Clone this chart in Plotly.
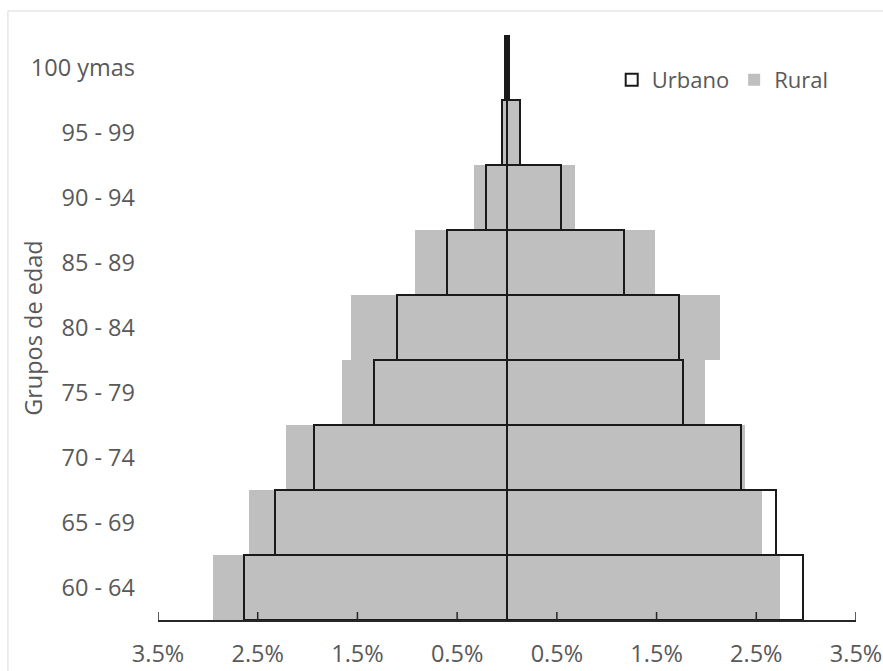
import plotly.graph_objects as go

# Grupos de edad (de abajo hacia arriba)
categorias = ["60 - 64", "65 - 69", "70 - 74", "75 - 79", "80 - 84",
              "85 - 89", "90 - 94", "95 - 99", "100 ymas"]

# Porcentaje de población por lado de la pirámide
urbano_izq = [2.64, 2.33, 1.94, 1.33, 1.10, 0.60, 0.21, 0.05, 0.02]
urbano_der = [2.97, 2.70, 2.35, 1.77, 1.72, 1.17, 0.54, 0.13, 0.02]
rural_izq = [2.95, 2.59, 2.22, 1.65, 1.56, 0.92, 0.33, 0.06, 0.02]
rural_der = [2.74, 2.56, 2.39, 1.99, 2.14, 1.48, 0.68, 0.14, 0.02]

# Marcas del eje horizontal
ticks_x = [-3.5, -2.5, -1.5, -0.5, 0.5, 1.5, 2.5, 3.5]
etiquetas_x = [f"{abs(v):.1f}%" for v in ticks_x]

FUENTE = "Open Sans"
GRIS_TEXTO = "#595959"
NEGRO_EJE = "#262626"
ALTO_AREA = 671 - 35 - 51  # alto del área de trazado en px
LARGO_MARCA = 8  # px

fig = go.Figure()

# Rural: barras grises rellenas (debajo)
fig.add_trace(go.Bar(
    name="Rural",
    y=categorias + categorias,
    x=[-v for v in rural_izq] + rural_der,
    orientation="h",
    marker=dict(color="#bfbfbf", line=dict(width=0)),
    legendrank=2,
))

# Urbano: solo contorno negro (encima)
fig.add_trace(go.Bar(
    name="Urbano",
    y=categorias + categorias,
    x=[-v for v in urbano_izq] + urbano_der,
    orientation="h",
    marker=dict(color="rgba(0,0,0,0)", line=dict(color="#1a1a1a", width=2)),
    legendrank=1,
))

# Marcas interiores del eje X, hacia arriba desde la línea del eje
marcas = [
    dict(type="line", xref="x", yref="paper",
         x0=v, x1=v, y0=0, y1=LARGO_MARCA / ALTO_AREA,
         line=dict(color=NEGRO_EJE, width=1.5), layer="above")
    for v in ticks_x
]

# Borde del área del gráfico
borde = dict(
    type="rect", xref="paper", yref="paper",
    x0=-0.215, x1=1.05, y0=-0.1, y1=1.041,
    line=dict(color="#d9d9d9", width=1), layer="below",
)

fig.update_layout(
    width=883,
    height=671,
    margin=dict(l=158, r=27, t=35, b=51, autoexpand=False),
    paper_bgcolor="white",
    plot_bgcolor="white",
    barmode="overlay",
    bargap=0,
    font=dict(family=FUENTE, size=23.5, color=GRIS_TEXTO),
    showlegend=True,
    legend=dict(
        orientation="h",
        x=0.65, y=0.923,
        xanchor="left", yanchor="middle",
        font=dict(family=FUENTE, size=22, color=GRIS_TEXTO),
        bgcolor="rgba(0,0,0,0)",
    ),
    xaxis=dict(
        range=[-3.5, 3.5],
        tickmode="array",
        tickvals=ticks_x,
        ticktext=etiquetas_x,
        ticks="",
        showline=True,
        linecolor=NEGRO_EJE,
        linewidth=1.5,
        showgrid=False,
        zeroline=False,
        layer="above traces",
        automargin=False,
        ticklabelstandoff=12,
        fixedrange=True,
    ),
    yaxis=dict(
        type="category",
        categoryorder="array",
        categoryarray=categorias,
        range=[-0.5, 8.5],
        showline=False,
        showgrid=False,
        zeroline=False,
        ticks="",
        automargin=False,
        ticklabelstandoff=22,
        fixedrange=True,
    ),
    annotations=[dict(
        text="Grupos de edad",
        xref="paper", yref="paper",
        x=-0.18, y=0.5,
        xanchor="center", yanchor="middle",
        textangle=-90,
        showarrow=False,
        font=dict(family=FUENTE, size=23.5, color=GRIS_TEXTO),
    )],
    shapes=[borde] + marcas,
)

fig.write_html("out.html")
